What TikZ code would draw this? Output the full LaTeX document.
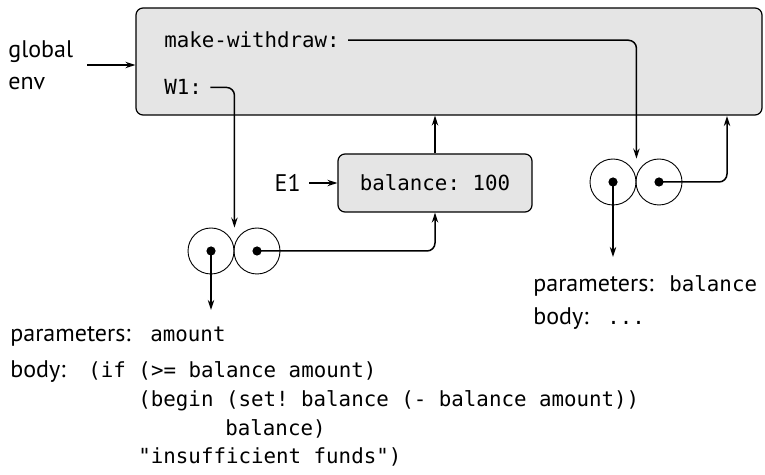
\documentclass[tikz,border=0pt]{standalone}
\usepackage{fontspec}
\setmainfont{PT Sans}
\setmonofont{DejaVu Sans Mono}
\usetikzlibrary{arrows.meta,fit}

\begin{document}
\begin{tikzpicture}[x=0.5pt,y=-0.5pt,
	frame/.style={draw,fill=black!10,rounded corners=3.5pt,line width=0.6pt},
	cell/.style={draw,circle,minimum size=23pt,inner sep=0,line width=0.45pt},
	ptr/.style={-{Stealth[length=5pt,width=3.2pt]},line width=0.75pt,rounded corners=4pt},
	lbl/.style={anchor=base west,inner sep=0,font=\fontsize{12}{16}\selectfont},
	code/.style={anchor=base west,inner sep=0,font=\fontsize{10.4}{12}\ttfamily}]
	\useasboundingbox (0,0) rectangle (765,475);
	% global frame
	\node[frame,fit={(136,8) (762,115)},inner sep=0] (glob) {};
	\node[lbl,anchor=west,align=left] (genv) at (8,65) {global\\env};
	\draw[ptr] ([xshift=7pt]genv.east) -- (genv.east -| glob.west);
		\node[code] (mw) at (164,48) {make-withdraw:};
		\node[code] (w1) at (164,95) {W1:};
	% frame E1
	\node[frame,minimum width=97pt,minimum height=29pt,
		font=\fontsize{10.4}{12}\ttfamily] (bal) at (435,183) {balance: 100};
	\node[lbl,anchor=east] (e1) at (301,183) {E1};
	\draw[ptr] ([xshift=4pt]e1.east) -- (bal.west);
	\draw[ptr] (bal.north) -- (bal.north |- glob.south);
	% procedure objects
		\node[cell] (lp1) at (211,251) {};
		\node[cell] (lp2) at (257,251) {};
		\node[cell] (rp1) at (613,182) {};
		\node[cell] (rp2) at (659,182) {};
	\foreach \c in {lp1,lp2,rp1,rp2}
		\fill (\c) circle[radius=2.3pt];
	\coordinate (ljoin) at (lp1.east |- lp1.north);
	\coordinate (rjoin) at (rp1.east |- rp1.north);
	\coordinate (rup) at (727,116);
	\coordinate (ldown) at (211,310);
	\coordinate (rdown) at (613,257);
	\draw[ptr] ([xshift=4pt]mw.east) -| (rjoin);
	\draw[ptr] ([xshift=4pt]w1.east) -| (ljoin);
	\draw[ptr] (lp2.center) -| (bal.south);
	\draw[ptr] (rp2.center) -| (rup);
	\draw[ptr] (lp1.center) -- (ldown);
	\draw[ptr] (rp1.center) -- (rdown);
	% texts
		\node[lbl] (par1) at (10,342) {parameters:};
		\node[code] (amt) at (150,342) {amount};
		\node[lbl] (body1) at (10,378) {body:};
		\node[code] (if1) at (88,378) {(if (>= balance amount)};
		\node[code] (if2) at (138,407) {(begin (set! balance (- balance amount))};
		\node[code] (if3) at (225,435) {balance)};
		\node[code] (if4) at (138,463) {"insufficient funds")};
		\node[lbl] (par2) at (533,292) {parameters:};
		\node[code] (bl) at (669,292) {balance};
		\node[lbl] (body2) at (533,325) {body:};
		\node[code] (dots) at (607,325) {...};
\end{tikzpicture}
\end{document}
